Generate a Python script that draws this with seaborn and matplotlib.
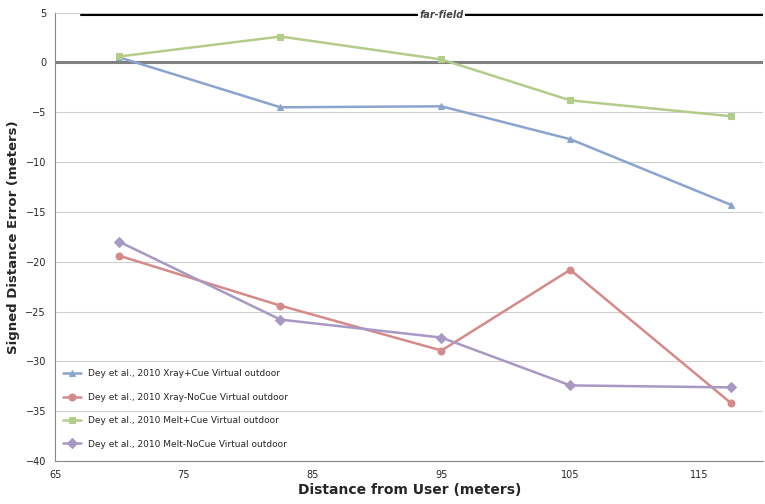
import matplotlib
matplotlib.use("Agg")
import matplotlib.pyplot as plt
import seaborn as sns
import pandas as pd

distance = [70, 82.5, 95, 105, 117.5]
xray_cue = [0.5, -4.5, -4.4, -7.7, -14.3]
xray_nocue = [-19.4, -24.4, -28.9, -20.8, -34.2]
melt_cue = [0.6, 2.6, 0.3, -3.8, -5.4]
melt_nocue = [-18.0, -25.8, -27.6, -32.4, -32.6]

labels = ["Dey et al., 2010 Xray+Cue Virtual outdoor",
          "Dey et al., 2010 Xray-NoCue Virtual outdoor",
          "Dey et al., 2010 Melt+Cue Virtual outdoor",
          "Dey et al., 2010 Melt-NoCue Virtual outdoor"]
series = [xray_cue, xray_nocue, melt_cue, melt_nocue]
colors = ["#8aa4d0", "#d48a88", "#b3cc8a", "#a898c4"]
markers = ["^", "o", "s", "D"]

sns.set_style("white")
plt.rcParams['font.family'] = ['DejaVu Sans']

fig, ax = plt.subplots(figsize=(7.65, 5.04), dpi=100)
ax.set_xlim(65, 120)
ax.set_ylim(-40, 5)
ax.set_yticks(range(-40, 6, 5))
ax.set_xticks(range(65, 116, 10))
ax.yaxis.grid(True, color="#d0d0d0", linewidth=0.8)
ax.set_axisbelow(True)
ax.axhline(0, color="#808080", linewidth=2.2, zorder=1)
ax.plot([67, 120], [4.8, 4.8], color="black", linewidth=1.5, zorder=1)
ax.text(95, 4.8, "far-field", ha="center", va="center", fontsize=7,
        fontstyle="italic", fontweight="bold", color="#444444",
        bbox=dict(facecolor="white", edgecolor="none", pad=1))

for vals, lab, c, m in zip(series, labels, colors, markers):
    df = pd.DataFrame({"x": distance, "y": vals})
    sns.lineplot(data=df, x="x", y="y", ax=ax, color=c, marker=m,
                 markersize=5, markeredgecolor=c, linewidth=1.8, label=lab)

for s in ["top", "right"]:
    ax.spines[s].set_visible(False)
for s in ["left", "bottom"]:
    ax.spines[s].set_color("#888888")
ax.tick_params(labelsize=7, length=3, color="#888888")
ax.set_xlabel("Distance from User (meters)", fontsize=10, fontweight="bold", labelpad=2)
ax.set_ylabel("Signed Distance Error (meters)", fontsize=9.5, fontweight="bold")
ax.legend(loc="lower left", bbox_to_anchor=(0.0, 0.01), fontsize=6.5,
          frameon=False, labelspacing=1.6)
fig.subplots_adjust(left=0.072, right=0.998, top=0.975, bottom=0.085)
fig.savefig("out.png")
